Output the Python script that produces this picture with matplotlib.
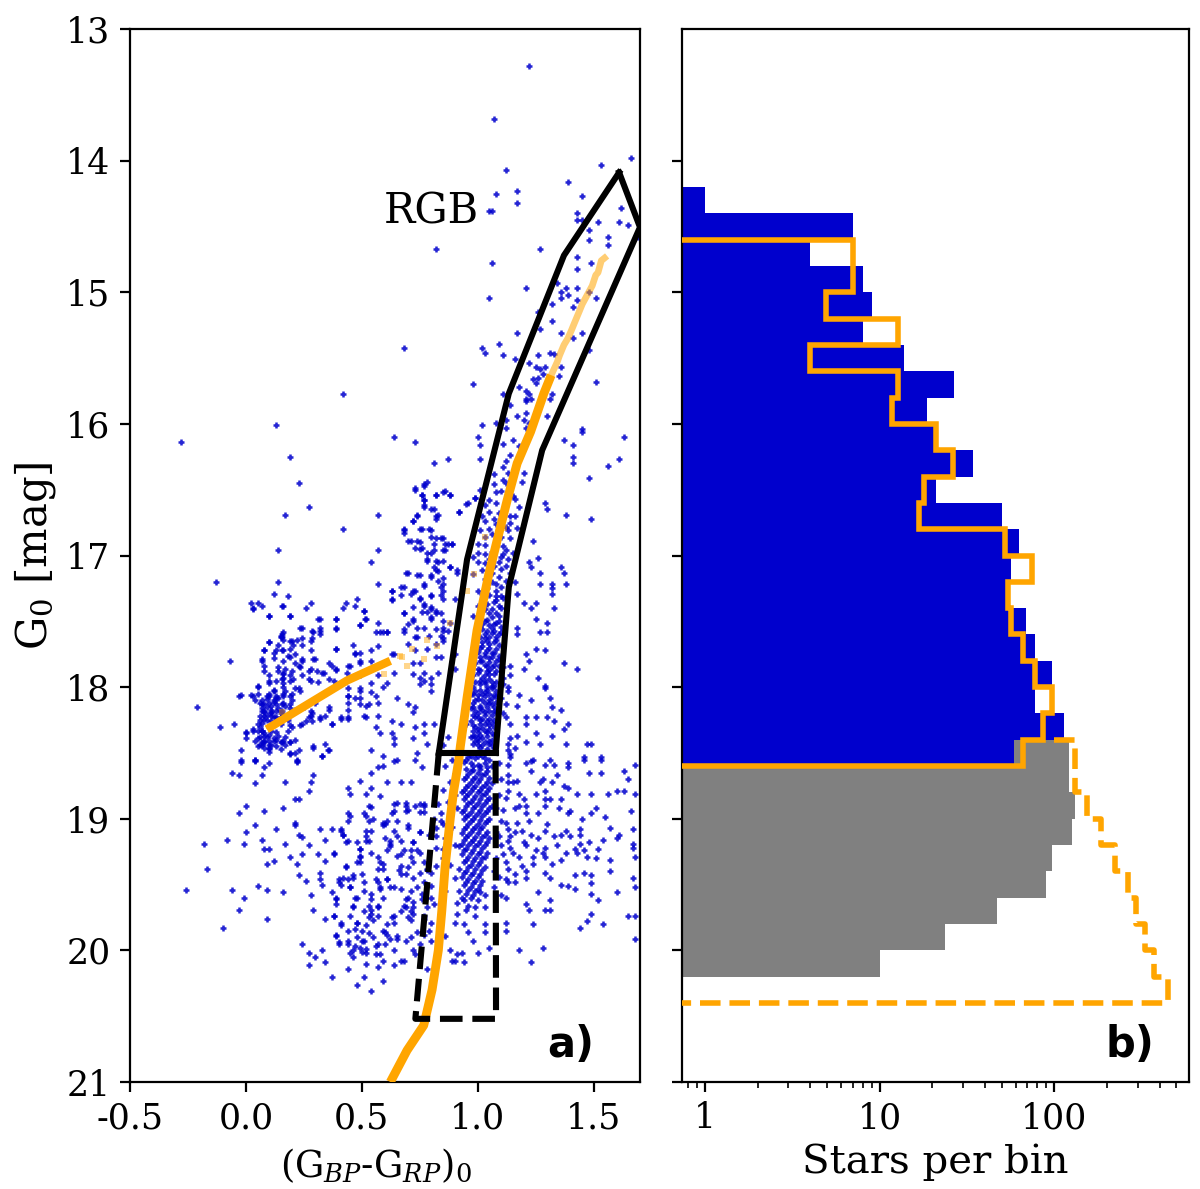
import numpy as np
import matplotlib
matplotlib.use('Agg')
import matplotlib.pyplot as plt

plt.rcParams['axes.unicode_minus'] = False
plt.rcParams['font.family'] = 'DejaVu Serif'
plt.rcParams['mathtext.fontset'] = 'dejavuserif'

# CMD stars (colour, G0)
stars_bright = [(1.22,13.28),(1.07,13.68),(1.12,14.07),(1.53,14.03),(1.66,13.98),(1.39,14.16),(1.17,14.23),(1.08,14.25),(1.45,14.27),(1.17,14.32),
(1.05,14.38),(1.06,14.38),(1.62,14.36),(1.43,14.40),(1.43,14.45),(1.45,14.45),(1.52,14.47),(1.61,14.47),(1.65,14.49),(1.48,14.53),(1.56,14.58),(1.48,14.60),(1.56,14.64),(1.69,14.58),
(0.82,14.67),(1.27,14.67),(1.43,14.73),(1.49,14.78),(1.43,14.82),(1.06,14.78),(1.21,14.97),(1.05,15.04),(1.34,14.93),(1.36,15.0),(1.38,14.97),(1.36,15.04),(1.39,15.02),(1.43,14.97),(1.48,15.0),(1.51,15.04),
(1.43,15.06),(1.32,15.09),(1.41,15.11),(1.26,15.15),(1.32,15.22),(1.27,15.28),(1.17,15.31),(1.36,15.31),(1.45,15.31),(1.41,15.35),(0.68,15.42),(1.02,15.42),(1.03,15.46),(1.09,15.39),(1.11,15.48),(1.16,15.51),
(1.26,15.48),(1.31,15.46),(1.33,15.47),(1.48,15.44),(1.22,15.54),(1.25,15.57),(1.27,15.58),(1.29,15.57),(1.36,15.57),(1.28,15.62),(1.26,15.65),(1.35,15.64),(1.24,15.66),(1.25,15.69),(1.51,15.68),(0.98,15.70),
(0.42,15.77),(1.18,15.72),(1.21,15.75),(1.22,15.77),(1.11,15.77),(1.32,15.77),(1.21,15.81),(1.23,15.81),(1.31,15.81),(1.21,15.83),(1.14,15.86),(1.21,15.92),(1.17,15.94),(1.30,15.94),(1.20,15.97),(1.22,15.99),
(1.08,15.99),(1.12,15.97),(1.02,16.01),(0.13,16.01),(1.12,16.03),(1.21,16.03),(1.45,16.04)]

stars_upper = [(-0.28,16.14),(0.64,16.10),(0.73,16.14),(1.0,16.10),(1.01,16.16),(1.11,16.15),(1.15,16.12),(1.18,16.17),(1.37,16.12),(1.41,16.16),(1.63,16.10),(1.45,16.06),
(0.19,16.25),(0.81,16.30),(0.87,16.27),(1.01,16.27),(1.12,16.28),(1.14,16.24),(1.41,16.25),(1.41,16.30),(1.56,16.32),(1.61,16.27),(1.11,16.33),(1.07,16.38),(1.13,16.37),(1.20,16.37),
(0.23,16.45),(1.48,16.41),(0.78,16.44),(0.77,16.47),(0.73,16.50),(0.86,16.51),(0.82,16.54),(0.88,16.54),(0.76,16.54),(1.01,16.50),(1.10,16.51),(1.19,16.44),(1.11,16.43),(1.07,16.46),
(0.77,16.58),(0.77,16.63),(0.27,16.63),(0.99,16.56),(0.96,16.60),(1.03,16.62),(1.08,16.60),(1.16,16.57),(1.18,16.63),(1.29,16.60),(1.30,16.65),(0.17,16.69),(0.57,16.69),(0.81,16.65),(0.83,16.69),(0.92,16.67),
(0.74,16.69),(0.72,16.74),(0.82,16.72),(1.38,16.69),(1.49,16.72),(1.05,16.67),(1.16,16.70),(1.03,16.74),(1.07,16.72),(1.14,16.75),(0.42,16.80),(0.68,16.80),(0.76,16.80),(0.79,16.80),(0.68,16.83),(1.01,16.81),
(1.05,16.80),(1.13,16.81),(1.17,16.79),(0.71,16.89),(0.74,16.89),(0.82,16.87),(0.84,16.87),(0.81,16.91),(0.73,16.94),(0.76,16.94),(0.86,16.91),(0.89,16.91),(1.24,16.89),(1.03,16.86),(1.0,16.91),(1.14,16.87),(1.11,16.93),
(0.14,16.96),(0.57,16.96),(0.78,16.98),(0.81,16.96),(0.86,16.96),(1.0,16.98),(1.03,16.99),(1.11,16.99),(1.15,16.98),(0.54,17.05),(0.78,17.03),(0.83,17.05),(1.22,17.05),(1.26,17.02),(1.0,17.05),(0.98,17.01),
(1.03,17.06),(1.13,17.03),(1.09,17.05),(0.81,17.09),(0.88,17.09),(1.23,17.09),(1.36,17.09),(0.83,17.12),(0.91,17.11),(1.37,17.13),(0.69,17.13),(0.74,17.15),(0.80,17.16),(1.27,17.13),(1.10,17.10),(1.14,17.13),(0.98,17.14)]

stars_middle = [(-0.13,17.20),(0.14,17.20),(0.57,17.22),(0.77,17.22),(0.83,17.19),(0.85,17.22),(1.12,17.19),(1.08,17.22),(1.27,17.22),(1.32,17.22),(1.38,17.22),(1.16,17.20),(1.32,17.25),(0.68,17.24),(0.63,17.27),
(0.71,17.29),(0.73,17.27),(0.85,17.27),(1.17,17.29),(1.32,17.29),(1.08,17.27),(1.10,17.31),(1.0,17.27),(0.12,17.29),(0.18,17.31),(0.63,17.33),(0.80,17.31),(0.75,17.33),(0.85,17.33),(1.08,17.34),(1.11,17.32),
(0.02,17.36),(0.05,17.36),(0.07,17.38),(0.03,17.40),(0.16,17.38),(0.28,17.36),(0.26,17.40),(0.43,17.36),(0.48,17.33),(0.42,17.40),(0.47,17.38),(0.77,17.37),(0.80,17.39),(0.78,17.43),(0.82,17.42),(1.0,17.38),
(1.09,17.38),(1.20,17.36),(1.25,17.36),(1.23,17.40),(1.33,17.40),(0.10,17.46),(0.19,17.46),(0.51,17.42),(0.68,17.44),(0.32,17.48),(0.52,17.48),(0.39,17.48),(0.72,17.48),(0.80,17.47),(0.84,17.44),(1.25,17.48),
(0.98,17.46),(1.06,17.47),(1.08,17.51),(1.05,17.53),(0.49,17.53),(0.57,17.51),(0.70,17.52),(0.74,17.55),(1.30,17.51),(1.17,17.55),(1.30,17.58),(1.27,17.58),(1.17,17.60),(0.85,17.55),(0.87,17.57),(1.07,17.57),
(1.04,17.57),(0.16,17.58),(0.24,17.55),(0.29,17.58),(0.32,17.55),(0.39,17.55),(0.56,17.58),(0.61,17.58),(0.68,17.58),(0.32,17.60),(0.58,17.58),(0.15,17.61),(0.84,17.61),(1.05,17.62),(1.08,17.62),(1.03,17.63),
(0.10,17.66),(0.16,17.64),(0.19,17.65),(0.22,17.64),(0.28,17.65),(0.74,17.62),(0.85,17.65),(1.05,17.67),(1.01,17.70),(0.08,17.72),(0.13,17.72),(0.16,17.72),(0.19,17.71),(0.21,17.75),(0.28,17.72),(0.39,17.71),
(0.47,17.75),(0.54,17.72),(0.57,17.69),(0.73,17.72),(0.78,17.71),(1.25,17.71),(1.29,17.72),(1.21,17.75),(1.06,17.74),(1.03,17.76),(0.90,17.75),(0.82,17.77),(-0.07,17.80),(0.07,17.80),(0.16,17.80),(0.24,17.80),
(0.29,17.79),(0.49,17.80),(0.63,17.75),(1.22,17.80),(1.37,17.82),(1.05,17.81),(1.01,17.80),(0.75,17.82),(0.08,17.84),(0.17,17.86),(0.23,17.84),(0.28,17.86),(0.37,17.84),(0.44,17.84),(1.14,17.84),(1.43,17.86),
(1.20,17.86),(1.11,17.85),(0.90,17.86),(1.05,17.87),(1.0,17.89),(1.03,17.91),(0.77,17.89),(0.10,17.91),(0.16,17.93),(0.19,17.91),(0.24,17.91),(0.33,17.89),(0.39,17.87),(0.49,17.91),(0.57,17.91),(0.80,17.93),
(1.11,17.93),(1.26,17.93),(1.14,17.91),(0.10,17.97),(0.16,17.97),(0.19,17.95),(0.28,17.95),(0.38,17.95),(0.54,17.97),(0.61,17.97),(0.75,17.98),(1.29,17.99),(1.01,17.98),(1.06,17.99),(1.11,17.98),(1.13,18.0)]

stars_lower = [(0.05,17.99),(0.17,18.03),(0.23,18.01),(0.44,18.01),(0.49,18.03),(0.54,18.04),(0.59,18.0),(0.80,18.03),(1.13,18.03),(1.29,18.01),(0.98,18.05),(1.03,18.04),(-0.02,18.06),(0.02,18.06),(0.10,18.07),
(0.14,18.08),(0.19,18.07),(0.44,18.07),(0.56,18.07),(0.65,18.08),(1.18,18.06),(1.23,18.10),(1.31,18.08),(1.06,18.08),(1.10,18.08),(-0.21,18.15),(0.07,18.13),(0.10,18.12),(0.13,18.13),(0.16,18.12),(0.07,18.18),
(0.11,18.17),(0.15,18.18),(0.36,18.15),(0.44,18.12),(0.52,18.14),(0.57,18.12),(0.70,18.13),(0.73,18.15),(1.12,18.13),(1.17,18.14),(1.32,18.15),(1.36,18.17),(1.01,18.14),(1.05,18.12),(0.99,18.18),(1.03,18.19),
(1.07,18.18),(0.08,18.22),(0.11,18.22),(0.28,18.22),(0.32,18.24),(0.41,18.24),(0.44,18.24),(0.51,18.22),(0.57,18.22),(0.72,18.19),(1.11,18.20),(1.12,18.23),(1.21,18.23),(1.25,18.23),(1.30,18.23),(1.0,18.23),
(1.05,18.24),(-0.11,18.30),(-0.05,18.28),(0.05,18.28),(0.24,18.28),(0.37,18.28),(0.56,18.30),(0.63,18.26),(0.67,18.28),(0.73,18.30),(0.77,18.28),(0.95,18.28),(1.01,18.28),(1.05,18.29),(1.14,18.28),(1.21,18.28),
(1.39,18.28),(1.33,18.26),(0.0,18.35),(0.03,18.32),(0.07,18.33),(0.13,18.34),(0.18,18.33),(0.58,18.35),(0.63,18.35),(0.77,18.35),(0.81,18.28),(1.0,18.34),(1.03,18.33),(1.25,18.35),(1.37,18.32),(1.17,18.37),
(0.0,18.39),(0.05,18.39),(0.08,18.41),(0.12,18.39),(0.16,18.41),(0.19,18.42),(0.64,18.39),(0.72,18.39),(1.0,18.39),(1.32,18.37),(1.14,18.39),(0.98,18.37),(0.87,18.38),(0.06,18.44),(0.10,18.46),(0.34,18.43),
(0.64,18.43),(0.78,18.43),(1.13,18.43),(1.21,18.42),(1.27,18.43),(1.38,18.43),(1.47,18.43),(1.49,18.43),(1.0,18.44),(1.05,18.43),(0.85,18.44),(0.29,18.46),(0.36,18.48),(0.23,18.48),(0.54,18.48),(-0.02,18.48),
(1.13,18.48),(1.16,18.46),(0.74,18.50),(0.19,18.50),(0.33,18.52),(0.59,18.52),(0.65,18.55),(0.73,18.55),(1.24,18.55),(1.14,18.53),(1.53,18.53),(1.46,18.53),(1.31,18.55),(-0.02,18.55),(0.04,18.55),(0.22,18.55),
(0.10,18.49),(0.21,18.50),(-0.02,18.57),(0.04,18.56),(0.10,18.58),(0.22,18.57),(0.64,18.56),(1.14,18.51),(1.23,18.56),(1.46,18.55),(1.53,18.55),(0.08,18.61),(0.59,18.60),(0.57,18.61),(0.76,18.61),(1.29,18.59),
(1.33,18.59),(1.39,18.58),(1.68,18.59),(1.13,18.59),(1.21,18.58),(-0.06,18.65),(-0.03,18.67),(0.07,18.67),(0.29,18.67),(0.54,18.65),(1.48,18.65),(1.53,18.65),(1.63,18.64),(1.34,18.67),(1.39,18.61),(1.13,18.67),(1.23,18.64)]

stars_faint = [(0.04,18.73),(0.17,18.72),(0.28,18.72),(0.49,18.71),(0.61,18.72),(0.67,18.72),(0.71,18.72),(1.28,18.70),(1.32,18.72),(1.65,18.70),(1.13,18.72),(1.17,18.71),(1.37,18.75),(0.44,18.77),(0.54,18.77),(0.27,18.79),
(1.39,18.77),(1.43,18.81),(1.49,18.81),(1.56,18.81),(1.60,18.79),(1.63,18.79),(1.68,18.81),(1.13,18.79),(1.18,18.81),(1.25,18.81),(1.29,18.79),(0.45,18.81),(0.52,18.81),(0.58,18.83),(0.23,18.85),(0.21,18.85),
(1.12,18.84),(1.20,18.85),(1.29,18.85),(1.36,18.85),(0.65,18.88),(0.69,18.88),(0.75,18.89),(0.77,18.89),(0.0,18.90),(0.54,18.91),(0.16,18.92),(1.21,18.90),(1.11,18.93),(1.16,18.92),(1.29,18.90),(1.51,18.92),(1.40,18.94),
(-0.03,18.96),(0.08,18.94),(0.44,18.96),(0.52,18.98),(0.64,18.94),(0.70,18.93),(0.77,18.95),(1.26,18.96),(1.39,18.96),(1.49,18.96),(1.66,18.94),(1.21,18.96),(0.44,19.02),(0.61,19.02),(0.65,19.02),(0.53,19.02),
(1.45,19.0),(1.55,18.99),(1.12,19.03),(1.17,19.03),(0.21,19.03),(0.04,19.05),(0.21,19.05),(0.13,19.08),(0.32,19.08),(0.37,19.08),(0.41,19.09),(0.54,19.09),(0.59,19.05),(0.64,19.09),(0.70,19.07),(0.75,19.10),
(1.13,19.08),(1.19,19.09),(1.30,19.04),(1.29,19.09),(1.38,19.09),(1.44,19.08),(1.57,19.07),(1.67,19.08),(0.0,19.10),(0.23,19.12),(0.42,19.12),(0.52,19.13),(0.60,19.15),(0.65,19.13),(1.14,19.13),(1.26,19.15),
(1.36,19.12),(1.44,19.12),(1.61,19.12),(1.09,19.13),(-0.18,19.19),(-0.08,19.16),(-0.01,19.19),(0.07,19.16),(0.17,19.19),(0.34,19.16),(0.24,19.14),(0.43,19.18),(0.48,19.18),(0.52,19.17),(0.62,19.19),(0.72,19.18),
(1.13,19.17),(1.44,19.19),(1.54,19.16),(1.67,19.19),(1.60,19.15),(1.48,19.18),(0.27,19.20),(0.08,19.23),(0.10,19.23),(0.49,19.23),(0.61,19.24),(0.68,19.24),(0.74,19.24),(1.14,19.22),(1.21,19.20),(1.29,19.22),
(1.25,19.24),(1.42,19.23),(1.52,19.23),(1.67,19.22),(0.24,19.27),(0.19,19.29),(0.31,19.27),(0.38,19.27),(0.49,19.29),(0.57,19.29),(0.65,19.28),(0.71,19.29),(1.11,19.27),(1.18,19.29),(1.29,19.29),(1.36,19.31),
(1.47,19.29),(1.57,19.31),(1.68,19.29),(1.43,19.26),(0.12,19.32),(0.09,19.34),(0.22,19.34),(0.34,19.32),(0.48,19.33),(0.59,19.34),(0.77,19.33),(1.12,19.33),(1.24,19.34),(1.32,19.34),(-0.17,19.38),(0.43,19.37),
(0.32,19.41),(0.57,19.38),(0.70,19.37),(0.78,19.38),(1.07,19.40),(1.13,19.38),(1.21,19.40),(1.29,19.41),(1.57,19.40),(1.46,19.41),(0.23,19.43),(0.42,19.45),(0.46,19.43),(0.61,19.46),(0.67,19.42),(0.72,19.45),
(1.21,19.45),(1.31,19.45),(1.42,19.43),(1.49,19.43),(1.67,19.45),(1.12,19.46),(0.26,19.47),(0.32,19.46),(0.40,19.48),(0.51,19.48),(0.57,19.48),(0.77,19.48),(1.13,19.48),(1.16,19.48),(1.36,19.50),(1.49,19.49)]

stars_bottom = [(-0.26,19.54),(-0.06,19.54),(0.05,19.51),(0.09,19.54),(0.16,19.56),(0.33,19.50),(0.37,19.56),(0.45,19.52),(0.58,19.53),(0.64,19.52),(1.39,19.51),(1.42,19.53),(1.68,19.52),(1.26,19.56),(1.60,19.56),(1.49,19.57),
(-0.01,19.60),(0.28,19.58),(0.39,19.60),(0.48,19.60),(0.54,19.57),(0.70,19.60),(0.76,19.57),(1.12,19.60),(1.52,19.62),(1.03,19.58),(0.94,19.62),(1.0,19.62),(-0.03,19.69),(0.29,19.69),(0.39,19.65),(0.46,19.66),
(0.53,19.66),(0.57,19.67),(0.68,19.66),(0.72,19.67),(1.21,19.65),(1.31,19.62),(1.29,19.69),(1.31,19.69),(1.22,19.69),(0.95,19.69),(1.03,19.67),(0.09,19.76),(0.34,19.76),(0.38,19.74),(0.45,19.74),(0.54,19.72),
(0.64,19.74),(0.72,19.72),(0.77,19.74),(0.91,19.72),(0.99,19.74),(1.49,19.72),(1.65,19.74),(1.68,19.74),(-0.10,19.83),(0.41,19.79),(0.48,19.79),(0.55,19.77),(0.61,19.80),(0.71,19.77),(0.90,19.79),(0.94,19.80),
(1.03,19.80),(1.12,19.79),(1.24,19.80),(1.44,19.83),(1.47,19.78),(1.54,19.80),(0.39,19.88),(0.44,19.85),(0.50,19.85),(0.59,19.85),(0.65,19.89),(0.74,19.86),(0.96,19.86),(1.03,19.86),(1.12,19.85),(0.40,19.94),
(0.44,19.95),(0.51,19.93),(0.57,19.95),(0.62,19.91),(0.69,19.93),(0.75,19.95),(0.98,19.93),(1.68,19.91),(0.24,19.95),(0.49,19.98),(1.18,20.0),(1.28,19.98),(1.05,19.98),(1.0,20.02),(0.88,20.0),(0.27,20.02),
(0.33,20.0),(0.45,20.02),(0.52,20.02),(0.58,20.03),(0.93,20.02),(0.73,20.03),(0.27,20.11),(0.30,20.05),(0.34,20.09),(0.44,20.14),(0.57,20.13),(0.64,20.11),(0.68,20.08),(0.89,20.08),(0.94,20.09),(1.23,20.09),
(0.78,20.14),(0.37,20.20),(0.51,20.20),(0.59,20.23),(0.48,20.26),(0.54,20.31)]

# dense clump at the blue end and the main column of the RGB
stars_clump = [(0.06,18.12),(0.09,18.15),(0.12,18.10),(0.14,18.16),(0.17,18.14),(0.08,18.19),(0.11,18.20),(0.06,18.22),(0.13,18.23),(0.09,18.25),(0.16,18.21),(0.07,18.27),(0.12,18.27),(0.10,18.30),(0.15,18.28),(0.18,18.25),
(0.06,18.30),(0.08,18.35),(0.11,18.33),(0.14,18.37),(0.05,18.33),(0.09,18.38),(0.12,18.41),(0.07,18.42),(0.15,18.42),(0.17,18.38),(0.21,18.40),(0.20,18.30),(0.10,18.44),(0.04,18.41),(0.13,17.95),(0.12,18.02),
(0.16,18.05),(0.10,18.05),(0.13,18.07),(0.20,18.10),(0.19,18.16),(0.25,18.15),(0.28,18.18),(0.30,18.12),(0.26,18.26),(0.16,17.90),(0.14,17.85),(0.12,17.78),(0.18,17.76),(0.14,17.68),(0.21,17.82),(0.15,17.62),
(0.10,17.46),(0.19,17.46),(0.155,17.38),(0.03,17.41),(0.31,17.48),(0.39,17.48),(0.39,17.56),(0.49,17.53),(0.515,17.48),(0.51,17.42),(0.235,17.55),(0.155,17.60),(0.155,17.62),(0.10,17.66),(0.20,17.65),(0.24,17.63),
(0.285,17.63),(0.32,17.57),(0.285,17.57),(0.08,17.72),(0.12,17.74),(0.155,17.72),(0.205,17.68),(0.24,17.68),(0.39,17.71),(0.46,17.68),(0.47,17.74),(0.49,17.74),(0.07,17.79),(0.19,17.77),(0.24,17.79),(0.30,17.79),
(0.36,17.82),(0.49,17.82),(0.45,17.84),(0.54,17.80),(0.08,17.875),(0.14,17.875),(0.16,17.89),(0.20,17.875),(0.235,17.85),(0.27,17.875),(0.305,17.875),(0.335,17.89),(0.39,17.86),(0.435,17.89),(0.10,17.95),(0.155,17.94),
(0.205,17.94),(0.27,17.94),(0.31,17.96),(0.36,17.94),(0.05,18.0),(0.16,18.0),(0.21,18.01),(0.12,18.03),(0.05,18.05),(0.16,18.065),(0.09,18.065),(0.13,18.08),(0.20,18.05),(0.235,18.03),(0.03,18.065),(-0.03,18.065),
(0.08,18.13),(0.12,18.115),(0.155,18.13),(0.19,18.13),(0.08,18.18),(0.11,18.19),(0.155,18.18),(0.21,18.17),(0.04,18.10),(0.08,18.24),(0.12,18.23),(0.15,18.23),(0.285,18.20),(0.27,18.23),(0.32,18.23),(0.36,18.17),
(0.44,18.17),(0.44,18.065),(0.47,18.08),(0.49,18.01),(0.44,18.23),(0.41,18.23),(0.49,18.13),(0.53,18.13),(0.49,18.08),(0.52,18.23),(0.34,18.22),(0.285,18.255),(0.235,18.29),(0.37,18.28),(0.19,18.29),(0.03,18.33),
(0.0,18.34),(0.08,18.37),(0.08,18.42),(0.10,18.41),(0.155,18.42),(0.19,18.42),(0.08,18.46),(0.10,18.47),(0.15,18.47),(0.05,18.45),(0.29,18.45),(0.355,18.48),(0.19,18.51),(0.22,18.56),(0.33,18.52),(0.04,18.55),
(0.07,18.10),(0.09,18.09),(0.11,18.14),(0.07,18.16),(0.13,18.18),(0.09,18.21),(0.15,18.20),(0.06,18.25),(0.11,18.26),(0.14,18.25),(0.07,18.33),(0.10,18.36),(0.13,18.40),(0.06,18.38),(0.11,18.44),(0.13,18.45),(0.07,18.44),(0.17,18.44)]

# turnoff fan and the faint blob left of the box
stars_fan = [(0.73,16.49),(0.77,16.46),(0.76,16.54),(0.82,16.54),(0.85,16.52),(0.88,16.54),(0.77,16.58),(0.77,16.62),(0.95,16.61),(0.99,16.56),(0.92,16.67),(0.80,16.65),(0.82,16.70),(0.74,16.70),(0.72,16.74),(0.68,16.81),
(0.75,16.80),(0.80,16.81),(0.70,16.89),(0.75,16.90),(0.80,16.86),(0.85,16.87),(0.87,16.91),(0.89,16.91),(0.75,16.95),(0.80,16.98),(0.85,16.96),(0.78,17.04),(0.82,17.04),(0.85,17.04),(0.88,17.09),(0.70,17.13),
(0.75,17.15),(0.80,17.15),(0.82,17.11),(0.85,17.17),(0.91,17.13),(0.67,17.24),(0.63,17.27),(0.72,17.27),(0.77,17.23),(0.84,17.24),(0.63,17.34),(0.67,17.30),(0.75,17.32),(0.80,17.30),(0.84,17.30),(0.90,17.33),
(0.72,17.39),(0.77,17.38),(0.80,17.41),(0.68,17.44),(0.76,17.43),(0.82,17.44),(0.72,17.50),(0.80,17.48),(0.85,17.50),(0.88,17.51),(0.68,17.56),(0.59,17.58),(0.61,17.58),(0.77,17.55),(0.82,17.56),(0.85,17.57),
(0.73,17.62),(0.79,17.61),(0.85,17.63),(0.70,17.67),(0.64,17.75),(0.82,17.67),(0.84,17.77),(0.64,17.89),(0.72,17.82),(0.72,17.90),(0.83,17.89),(0.77,17.95),(0.80,17.98),(0.75,17.93)]

stars_blob = [(0.53,18.90),(0.64,18.89),(0.69,18.90),(0.73,18.90),(0.77,18.90),(0.83,18.89),(0.45,18.98),(0.51,18.96),(0.55,19.0),(0.59,19.03),(0.63,18.96),(0.69,18.94),(0.75,18.95),(0.81,19.0),(0.84,18.96),
(0.41,19.08),(0.52,19.09),(0.60,19.04),(0.70,19.05),(0.75,19.10),(0.82,19.07),(0.85,19.04),(0.42,19.12),(0.44,19.17),(0.49,19.23),(0.53,19.17),(0.62,19.17),(0.67,19.17),(0.72,19.18),(0.79,19.12),(0.82,19.13),
(0.38,19.26),(0.49,19.28),(0.54,19.26),(0.62,19.21),(0.67,19.27),(0.71,19.24),(0.75,19.26),(0.82,19.22),(0.85,19.23),(0.43,19.36),(0.49,19.33),(0.58,19.33),(0.59,19.38),(0.67,19.36),(0.72,19.33),(0.78,19.39),
(0.82,19.36),(0.40,19.46),(0.44,19.46),(0.46,19.45),(0.50,19.42),(0.56,19.46),(0.61,19.46),(0.66,19.39),(0.69,19.42),(0.75,19.41),(0.80,19.41),(0.41,19.50),(0.45,19.52),(0.51,19.55),(0.58,19.52),(0.62,19.52),
(0.67,19.53),(0.71,19.55),(0.74,19.52),(0.80,19.51),(0.39,19.61),(0.47,19.60),(0.54,19.61),(0.59,19.60),(0.69,19.61),(0.72,19.63),(0.76,19.61),(0.80,19.60),(0.46,19.67),(0.51,19.70),(0.54,19.69),(0.57,19.66),
(0.67,19.70),(0.71,19.70),(0.78,19.67),(0.81,19.65),(0.38,19.74),(0.48,19.79),(0.53,19.75),(0.57,19.74),(0.63,19.75),(0.69,19.67),(0.77,19.76),(0.80,19.79),(0.41,19.81),(0.47,19.84),(0.52,19.81),(0.60,19.86),
(0.64,19.79),(0.70,19.75),(0.79,19.85),(0.86,19.89),(0.39,19.89),(0.44,19.93),(0.50,19.93),(0.55,19.90),(0.61,19.88),(0.65,19.91),(0.71,19.90),(0.77,19.88),(0.80,19.93),(0.40,19.95),(0.46,20.0),(0.52,19.99),
(0.56,20.03),(0.64,20.0),(0.72,20.0),(0.91,20.03),(0.46,20.05),(0.52,20.10),(0.59,20.08),(0.67,20.08),(0.90,20.08),(0.48,19.90),(0.53,19.87),(0.56,19.97),(0.60,19.95),(0.47,19.97),(0.50,20.01)]

stars_column = [(1.04,17.25),(1.07,17.35),(1.02,17.42),(1.05,17.44),(1.09,17.46),(1.03,17.50),(1.07,17.52),(1.10,17.54),(1.02,17.56),(1.06,17.59),(1.09,17.60),(1.01,17.62),(1.04,17.65),(1.07,17.66),(1.09,17.68),(1.02,17.69),
(1.00,17.73),(1.04,17.72),(1.07,17.74),(1.09,17.76),(1.01,17.77),(1.05,17.78),(1.08,17.80),(0.99,17.82),(1.03,17.83),(1.06,17.85),(1.09,17.84),(1.00,17.86),(1.04,17.88),(1.07,17.90),(0.98,17.91),(1.02,17.93),
(1.05,17.94),(1.08,17.96),(0.99,17.96),(1.03,17.97),(1.06,18.01),(0.98,18.0),(1.01,18.02),(1.04,18.02),(1.08,18.03),(0.97,18.05),(1.00,18.06),(1.03,18.07),(1.07,18.06),(0.99,18.10),(1.02,18.10),(1.05,18.10),
(1.08,18.11),(0.98,18.12),(1.01,18.16),(1.04,18.15),(1.07,18.15),(0.97,18.16),(1.00,18.20),(1.03,18.21),(1.06,18.21),(0.98,18.21),(1.01,18.25),(1.04,18.26),(1.07,18.25),(0.97,18.26),(0.99,18.30),(1.02,18.31),
(1.05,18.32),(1.07,18.30),(0.98,18.33),(1.01,18.36),(1.04,18.37),(1.06,18.35),(0.97,18.38),(1.00,18.41),(1.03,18.42),(1.06,18.40),(0.98,18.43),(1.01,18.46),(1.04,18.47),(1.07,18.46),
(0.96,18.53),(0.99,18.54),(1.02,18.52),(1.05,18.55),(0.94,18.57),(0.97,18.58),(1.00,18.59),(1.03,18.58),(1.06,18.60),(0.95,18.62),(0.98,18.63),(1.01,18.62),(1.04,18.64),(0.96,18.66),(0.99,18.68),(1.02,18.67),
(1.05,18.69),(0.94,18.70),(0.97,18.72),(1.00,18.72),(1.03,18.74),(1.06,18.73),(0.95,18.76),(0.98,18.77),(1.01,18.78),(1.04,18.79),(0.93,18.80),(0.96,18.81),(0.99,18.83),(1.02,18.82),(1.05,18.84),(0.94,18.85),
(0.97,18.87),(1.00,18.88),(1.03,18.88),(1.06,18.90),(0.95,18.90),(0.98,18.92),(1.01,18.93),(1.04,18.94),(0.93,18.95),(0.96,18.97),(0.99,18.98),(1.02,18.98),(1.05,19.0),(0.94,19.0),(0.97,19.02),(1.00,19.04),
(1.03,19.03),(0.95,19.06),(0.98,19.08),(1.01,19.08),(1.04,19.10),(0.93,19.11),(0.96,19.12),(0.99,19.14),(1.02,19.14),(1.05,19.15),(0.94,19.16),(0.97,19.18),(1.00,19.19),(1.03,19.20),(0.92,19.21),(0.95,19.23),
(0.98,19.24),(1.01,19.25),(1.04,19.26),(0.93,19.27),(0.96,19.29),(0.99,19.30),(1.02,19.30),(0.94,19.33),(0.97,19.35),(1.00,19.35),(1.03,19.37),(0.92,19.38),(0.95,19.40),(0.98,19.41),(1.01,19.42),(0.93,19.44),
(0.96,19.46),(0.99,19.47),(1.02,19.47),(0.94,19.50),(0.97,19.52),(1.00,19.53),(0.92,19.55),(0.95,19.57),(0.98,19.58),(1.01,19.56)]

# second pass over the column, between the stars above
stars_column2 = [(1.12,16.45),(1.08,16.52),(1.15,16.55),(1.05,16.58),(1.12,16.62),(1.09,16.68),(1.14,16.70),(1.02,16.70),(1.08,16.76),(1.12,16.78),(1.06,16.84),(1.10,16.86),(1.03,16.92),(1.08,16.92),(1.12,16.96),(1.06,16.97),
(1.10,17.01),(1.05,17.03),(1.07,17.08),(1.12,17.08),(1.02,17.11),(1.06,17.13),(1.09,17.16),(1.03,17.18),(1.06,17.20),(1.10,17.24),(1.02,17.29),(1.05,17.30),(1.08,17.31),(1.04,17.37),(1.10,17.40),(1.03,17.41),
(1.06,17.41),(1.08,17.44),(1.01,17.47),(1.04,17.49),(1.09,17.50),(1.02,17.52),(1.06,17.55),(1.10,17.58),(1.03,17.60),(1.08,17.64),(1.02,17.66),(1.05,17.70),(1.08,17.71),(1.03,17.74),(1.06,17.77),(1.09,17.79),
(1.02,17.80),(1.04,17.84),(1.07,17.83),(1.01,17.87),(1.05,17.90),(1.08,17.88),(1.03,17.95),(1.06,17.96),(1.01,17.95),(1.07,17.99),(1.04,18.0),(0.99,18.03),(1.02,18.05),(1.05,18.05),(1.08,18.07),(1.00,18.09),
(1.03,18.12),(1.06,18.13),(0.98,18.15),(1.02,18.17),(1.05,18.18),(1.08,18.19),(0.99,18.23),(1.02,18.24),(1.06,18.27),(0.98,18.29),(1.03,18.28),(1.00,18.32),(1.04,18.34),(1.07,18.36),(0.99,18.37),(1.02,18.39),
(1.05,18.41),(0.99,18.41),(1.02,18.44),(1.06,18.44),(0.97,18.52),(1.00,18.52),(1.03,18.54),(0.95,18.55),(0.98,18.60),(1.01,18.60),(1.04,18.61),(0.97,18.64),(1.00,18.65),(1.03,18.66),(0.95,18.68),(0.98,18.70),
(1.01,18.70),(1.04,18.72),(0.96,18.74),(0.99,18.75),(1.02,18.76),(1.05,18.77),(0.94,18.78),(0.97,18.79),(1.00,18.80),(1.03,18.81),(0.95,18.83),(0.98,18.85),(1.01,18.85),(1.04,18.86),(0.96,18.88),(0.99,18.90),
(1.02,18.90),(1.05,18.92),(0.94,18.93),(0.97,18.95),(1.00,18.96),(1.03,18.96),(0.95,18.98),(0.98,19.0),(1.01,19.01),(1.04,19.02),(0.96,19.04),(0.99,19.06),(1.02,19.06),(0.94,19.08),(0.97,19.10),(1.00,19.11),
(1.03,19.12),(0.95,19.14),(0.98,19.16),(1.01,19.17),(1.04,19.18),(0.93,19.19),(0.96,19.20),(0.99,19.21),(1.02,19.22),(0.94,19.24),(0.97,19.26),(1.00,19.27),(1.03,19.29),(0.95,19.31),(0.98,19.32),(1.01,19.33),
(0.96,19.37),(0.99,19.38),(1.02,19.39),(0.94,19.41),(0.97,19.43),(1.00,19.44),(0.95,19.48),(0.98,19.49),(1.01,19.50),(0.96,19.54),(0.99,19.55),(0.93,19.60),(0.97,19.60),(0.91,19.64),(0.96,19.66),(0.99,19.67),
(0.89,18.55),(0.86,18.60),(0.90,18.66),(0.88,18.72),(0.85,18.78),(0.90,18.82),(0.87,18.87),(0.91,18.92),(0.84,19.02),(0.89,19.06),(0.86,19.15),(0.90,19.20),(0.85,19.30),(0.88,19.35),(0.90,19.45),(0.86,19.55),
(1.09,18.58),(1.10,18.70),(1.09,18.82),(1.08,18.92),(1.10,19.02),(1.08,19.10),(1.10,19.20),(1.08,19.30),(1.09,19.44),(1.07,19.52),(1.10,19.58),(1.15,18.72),(1.18,18.90),(1.22,19.02),(1.16,19.10),(1.23,19.12),
(1.20,19.18),(1.15,19.26),(1.24,19.29),(1.19,19.36),(1.16,19.42),(1.28,19.26),(1.34,19.20),(1.38,19.26),(1.33,19.13),(1.40,19.13),(1.46,19.24),(1.51,19.30),(1.27,18.72),(1.31,18.85),(1.35,18.92)]

# orange fiducial line, G0 read along the track
fid_color = [0.623,0.695,0.767,0.803,0.83,0.845,0.859,0.882,0.896,0.918,0.925,0.954,0.997,1.048,1.083,1.127,1.17,1.228,1.285,1.317]
fid_mag = [21.0,20.76,20.57,20.3,20.0,19.7,19.37,18.99,18.79,18.56,18.45,18.08,17.57,17.14,16.89,16.58,16.3,16.06,15.77,15.63]
rgb_color = [1.317,1.343,1.353,1.372,1.389,1.404,1.418,1.437,1.451,1.494,1.509,1.519,1.533,1.547]
rgb_mag = [15.63,15.53,15.48,15.40,15.35,15.29,15.23,15.15,15.09,14.95,14.87,14.85,14.76,14.74]
hb_color = [0.09,0.22,0.436,0.623]
hb_mag = [18.32,18.18,17.95,17.80]
gap_color = [0.666,0.717,0.674,0.695,0.767,0.782,0.825,0.882,0.954,0.983,1.033,1.113,0.594,0.155]
gap_mag = [17.76,17.71,17.77,17.84,17.79,17.64,17.69,17.51,17.27,17.14,16.86,16.79,17.90,18.19]

# selection box
box_left_color = [1.61,1.372,1.134,0.954,0.832]
box_left_mag = [14.09,14.72,15.77,17.03,18.5]
box_right_color = [1.61,1.70,1.278,1.134,1.077]
box_right_mag = [14.09,14.506,16.2,17.24,18.5]
box_faint_color = [0.832,0.731,1.079,1.077]
box_faint_mag = [18.5,20.52,20.52,18.5]

# histograms, stars per 0.2 mag bin
blue_edges = [14.2,14.4,14.6,14.8,15.0,15.2,15.4,15.6,15.8,16.0,16.2,16.4,16.6,16.8,17.0,17.2,17.4,17.6,17.8,18.0,18.2,18.4,18.6]
blue_counts = [1,7,4,8,9,8,13.7,26.5,18.7,21,34.4,21,50.4,63,56.6,53,68.6,77,96.7,77,113,59]
grey_edges = [18.4,18.6,18.8,19.0,19.2,19.4,19.6,19.8,20.0,20.2]
grey_counts = [121.6,121.6,132,126,96.7,89,46.9,23.5,10]
model_edges = [14.6,14.8,15.0,15.2,15.4,15.6,15.8,16.0,16.2,16.4,16.6,16.8,17.0,17.2,17.4,17.6,17.8,18.0,18.2,18.4,18.6]
model_counts = [7,7,4.9,12.7,4,12.7,11.8,21,26.3,18,16.7,52.5,74,54.6,56.6,66,77,96.7,86.3,66]
faint_edges = [18.4,18.6,18.8,19.0,19.2,19.4,19.6,19.8,20.0,20.2,20.4]
faint_counts = [131,131,153.5,185,223,264,294,331,370,447]

stars = np.array(stars_bright + stars_upper + stars_middle + stars_lower + stars_faint + stars_bottom
                 + stars_clump + stars_fan + stars_blob + stars_column + stars_column2)

fig = plt.figure(figsize=(6, 5.945), dpi=200)
ax1 = fig.add_axes([130/1200, 1-1082/1189, 510/1200, 1053/1189])
ax2 = fig.add_axes([682/1200, 1-1082/1189, 507/1200, 1053/1189])

# a) CMD
ax1.scatter(stars[:, 0], stars[:, 1], marker='+', s=4, linewidths=0.9, color='mediumblue', alpha=0.85, zorder=2)
ax1.scatter(gap_color, gap_mag, marker='s', s=5, color='orange', alpha=0.45, linewidths=0, zorder=3)
ax1.plot(rgb_color, rgb_mag, color='orange', lw=2.4, alpha=0.55, zorder=3)
ax1.plot(hb_color, hb_mag, color='orange', lw=3.0, zorder=3, solid_capstyle='butt')
ax1.plot(fid_color, fid_mag, color='orange', lw=3.2, zorder=3, solid_capstyle='butt')
ax1.plot(box_left_color, box_left_mag, color='black', lw=2.2, zorder=4)
ax1.plot(box_right_color, box_right_mag, color='black', lw=2.2, zorder=4)
ax1.plot([box_left_color[-1], box_right_color[-1]], [18.5, 18.5], color='black', lw=2.2, zorder=4)
ax1.plot(box_faint_color, box_faint_mag, color='black', lw=2.2, ls='--', zorder=4)
ax1.set_xlim(-0.5, 1.7)
ax1.set_ylim(21, 13)
ax1.set_xticks([-0.5, 0.0, 0.5, 1.0, 1.5])
ax1.set_xticklabels(['-0.5', '0.0', '0.5', '1.0', '1.5'])
ax1.tick_params(labelsize=12.5)
ax1.set_xlabel(r'(G$_{BP}$-G$_{RP}$)$_0$', fontsize=13.2, labelpad=4, x=0.483)
ax1.set_ylabel(r'G$_0$ [mag]', fontsize=15, labelpad=3)
ax1.text(0.80, 14.39, 'RGB', fontsize=15, ha='center', va='center')
ax1.text(1.4, 20.72, 'a)', fontsize=15, fontweight='bold', family='DejaVu Sans', ha='center', va='center')

# b) luminosity function
ax2.stairs(grey_counts, grey_edges, orientation='horizontal', baseline=0.1, fill=True, color='grey')
ax2.stairs(blue_counts, blue_edges, orientation='horizontal', baseline=0.1, fill=True, color='mediumblue')
ax2.stairs(model_counts, model_edges, orientation='horizontal', baseline=0.1, color='orange', lw=2.0, zorder=3)
ax2.plot(np.r_[100, np.repeat(faint_counts, 2), 0.1], np.repeat(faint_edges, 2), color='orange', lw=2.0, ls='--', zorder=3)
ax2.set_xscale('log')
ax2.set_xlim(0.738, 590)
ax2.set_ylim(21, 13)
ax2.set_yticks([14, 15, 16, 17, 18, 19, 20, 21])
ax2.set_yticks([], minor=True)
ax2.set_yticklabels([])
ax2.set_xticks([1, 10, 100])
ax2.set_xticklabels(['1', '10', '100'])
ax2.tick_params(axis='x', labelsize=12.5)
ax2.set_xlabel('Stars per bin', fontsize=14.5, labelpad=3)
ax2.text(272, 20.72, 'b)', fontsize=15, fontweight='bold', family='DejaVu Sans', ha='center', va='center')

plt.savefig('out.png', dpi=200)
